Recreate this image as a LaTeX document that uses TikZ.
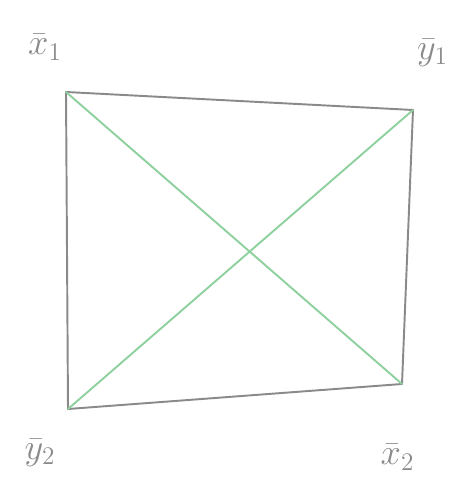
\documentclass[tikz,border=0pt]{standalone}
\usepackage{amsmath}
\definecolor{pencil}{HTML}{8A8A8A}
\definecolor{diag}{HTML}{8FD19E}

\begin{document}
\begin{tikzpicture}[
    edge/.style={draw=pencil, line width=1.1pt, line cap=round},
    cross/.style={draw=diag, line width=1.1pt, line cap=round},
    lbl/.style={text=pencil, font=\huge, inner sep=0pt}
]
\useasboundingbox (0,0) rectangle (9.08,9.9);

\coordinate (a) at (1.32,8.06);
\coordinate (b) at (8.26,7.7);
\coordinate (c) at (8.04,2.22);
\coordinate (d) at (1.36,1.72);

\node[lbl] (xa) at (0.9,8.95) {$\bar{x}_1$};
\node[lbl] (ya) at (8.65,8.85) {$\bar{y}_1$};
\node[lbl] (yb) at (0.8,0.85) {$\bar{y}_2$};
\node[lbl] (xb) at (7.95,0.75) {$\bar{x}_2$};

\draw[edge] (a) -- (b);
\draw[edge] (b) -- (c);
\draw[edge] (c) -- (d);
\draw[edge] (d) -- (a);

\draw[cross] (a) -- (c);
\draw[cross] (d) -- (b);
\end{tikzpicture}
\end{document}
